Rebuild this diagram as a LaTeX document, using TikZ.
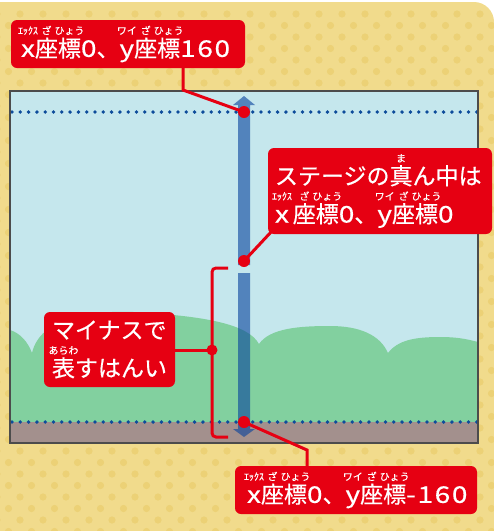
\documentclass[tikz,border=0pt]{standalone}
\usepackage{fontspec}
\usetikzlibrary{calc}
\newfontfamily\jp{Noto Sans CJK JP}[FakeBold=0.5]
\newfontfamily\jplat{Noto Sans CJK JP}[FakeStretch=1.22,LetterSpace=7,FakeBold=0.5]
\newfontfamily\jpruby{Noto Sans CJK JP}[FakeBold=0.3]
% ruby (furigana) centred above its base, allowed to overhang
\newcommand\rb[2]{\mbox{\setbox0\hbox{#1}\setbox2\hbox{\jpruby\fontsize{10}{10}\selectfont #2}%
  \rlap{\hbox to\wd0{\hss\raise22.5pt\box2\hss}}\box0}}
\newcommand\la[1]{\mbox{\jplat #1}}
\definecolor{panelbg}{RGB}{241,219,140}
\definecolor{paneldot}{RGB}{236,209,118}
\definecolor{sky}{RGB}{197,231,237}
\definecolor{hill}{RGB}{130,208,159}
\definecolor{ground}{RGB}{163,144,141}
\definecolor{dotblue}{RGB}{13,76,155}
\definecolor{axisblue}{RGB}{6,65,156}
\definecolor{callred}{RGB}{230,0,18}
\begin{document}
\begin{tikzpicture}[x=1pt,y=-1pt,
  callout/.style={fill=callred, rounded corners=6pt, text=white, align=left,
    inner ysep=0pt, font=\jp\fontsize{23}{38}\selectfont},
  redline/.style={draw=callred, line width=3pt},
  reddot/.style={fill=callred},
  dotline/.style={draw=dotblue, line width=3.8pt, line cap=round, dash pattern=on 0pt off 8.3pt},
  axis/.style={fill=axisblue, fill opacity=0.6}]
\useasboundingbox (0,0) rectangle (494,531);
\fill[white] (0,0) rectangle (494,531);

% dotted yellow panel
\begin{scope}
  \clip (0,531) -- (0,2) [rounded corners=20pt] -- (494,2) [sharp corners] -- (494,531) -- cycle;
  \fill[panelbg] (0,0) rectangle (494,531);
  \foreach \i in {0,...,22} {
    \foreach \j in {0,...,23} {
      \fill[paneldot] (\i*23-3, \j*23+14) circle (3.6);
      \fill[paneldot] (\i*23+8.5, \j*23+25.5) circle (3.6);
    }
  }
\end{scope}

% stage: sky, hills, ground
\fill[sky] (10,91) rectangle (478,443);
\fill[hill] (10,422) -- (10,330)
  .. controls (20,333) and (28,342) .. (32,353)
  .. controls (40,318) and (90,308) .. (150,313)
  .. controls (205,317) and (248,324) .. (259,344)
  .. controls (270,328) and (300,326) .. (330,326)
  .. controls (360,326) and (380,335) .. (388,353)
  .. controls (398,340) and (415,337) .. (440,337)
  .. controls (460,337) and (470,340) .. (478,342)
  -- (478,422) -- cycle;
\fill[ground] (10,422) rectangle (478,443);
\draw[dotline] (12,112) -- (478,112);
\draw[dotline] (12,422) -- (478,422);
\draw[draw=black!70, line width=1.2pt] (10,91) rectangle (478,443);

% y axis, split at the origin
\fill[axis] (238,265) -- (238,105) -- (233,105) -- (244,96) -- (255,105) -- (250,105) -- (250,265) -- cycle;
\fill[axis] (238,273) -- (238,429) -- (233,429) -- (244,437) -- (255,429) -- (250,429) -- (250,273) -- cycle;

% marked points
\coordinate (ptop) at (244,112);
\coordinate (pmid) at (244,261);
\coordinate (pbot) at (244,422);
\coordinate (pneg) at (212,350);
\coordinate (bra) at (228,268);
\coordinate (brb) at (228,437);

% callouts
\node[callout, minimum width=234pt, minimum height=48pt, text width=214pt, inner xsep=10pt] (c1) at (128,44)
  {\rb{\la{x}}{ｴｯｸｽ}\rb{座}{ざ}\rb{標}{ひょう}\la{0}、\rb{\la{y}}{ワイ}\rb{座}{ざ}\rb{標}{ひょう}\la{160}};
\node[callout, minimum width=224pt, minimum height=86pt, text width=210pt, inner xsep=7pt] (c2) at (380,191)
  {ステージの\rb{真}{ま}ん中は\\
   \rb{\la{x}}{ｴｯｸｽ}\,\rb{座}{ざ}\rb{標}{ひょう}\la{0}、\rb{\la{y}}{ワイ}\rb{座}{ざ}\rb{標}{ひょう}\la{0}};
\node[callout, minimum width=131pt, minimum height=75pt, text width=115pt, inner xsep=8pt] (c3) at (109.5,349.5)
  {マイナスで\\\rb{表}{あらわ}すはんい};
\node[callout, minimum width=242pt, minimum height=48pt, text width=218pt, inner xsep=12pt] (c4) at (356,490)
  {\rb{\la{x}}{ｴｯｸｽ}\rb{座}{ざ}\rb{標}{ひょう}\la{0}、\rb{\la{y}}{ワイ}\rb{座}{ざ}\rb{標}{ひょう}\la{-160}};

% leader lines
\coordinate (k1) at (183,90);
\coordinate (k4) at (307,450);
\draw[redline] (k1 |- c1.south) -- (k1) -- (ptop);
\draw[redline] ($(c2.south west)+(4,-3)$) -- (pmid);
\draw[redline] (c3.east |- pneg) -- (pneg);
\draw[redline] (pbot) -- (k4) -- (k4 |- c4.north);
\draw[redline, rounded corners=4pt] (bra) -- (212,268) -- (212,437) -- (brb);

\fill[reddot] (ptop) circle (6);
\fill[reddot] (pmid) circle (6);
\fill[reddot] (pbot) circle (6);
\fill[reddot] (pneg) circle (5.5);
\end{tikzpicture}
\end{document}
